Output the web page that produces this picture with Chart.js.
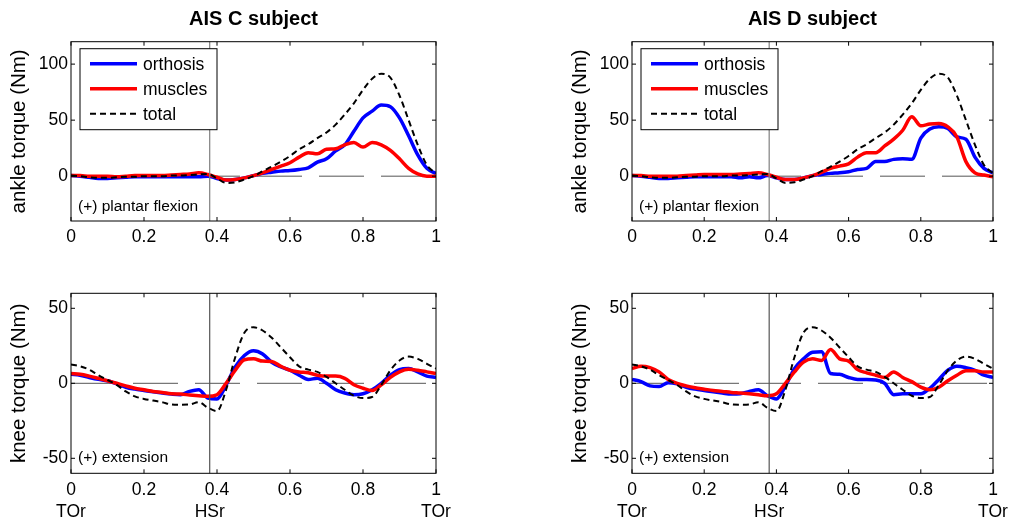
<!DOCTYPE html>
<html>
<head>
<meta charset="utf-8">
<script src="https://cdn.jsdelivr.net/npm/chart.js@4.4.1/dist/chart.umd.min.js"></script>
<style>
  body { margin: 0; background: #fff; width: 1009px; height: 522px; position: relative; overflow: hidden; }
  canvas { position: absolute; }
</style>
</head>
<body>
<canvas id="ankleC" width="452" height="260" style="left:0;top:0"></canvas>
<canvas id="kneeC" width="452" height="262" style="left:0;top:260px"></canvas>
<canvas id="ankleD" width="448" height="260" style="left:561.3px;top:0"></canvas>
<canvas id="kneeD" width="448" height="262" style="left:561.3px;top:260px"></canvas>
<script>
// gait cycle (fraction), shared by all panels
const gait = [0,0.025,0.05,0.075,0.1,0.125,0.15,0.175,0.2,0.225,0.25,0.275,0.3,0.325,0.35,0.375,0.4,0.425,0.45,0.475,0.5,0.525,0.55,0.575,0.6,0.625,0.65,0.675,0.7,0.725,0.75,0.775,0.8,0.825,0.85,0.875,0.9,0.925,0.95,0.975,1];

// ankle torque (Nm)
const ankleTotal = [0.5,0,-1,-1.5,-1.5,-1,-0.5,-0.5,0,0,0,0.5,0.5,1,1.5,2,-2,-6,-5.5,-3,0,4.5,8.5,13,18,24,28.5,34,39,46,55,65,77,87,91.5,88,72,50,28,10,2.5];
const ankleOrthC = [0.5,0,-1,-2,-2,-1.5,-1,-0.5,-0.5,-0.5,-0.5,-0.5,-0.5,-0.5,-0.5,0,-2,-3.5,-3,-1.5,0.5,2.5,3.5,4.5,5,6,7.5,12.5,15.5,22.5,28,40,52,58,63.5,62,52,36,19,7,2.5];
const ankleMuscC = [0.5,0.5,0,0,0,-0.5,0,0.5,0.5,0.5,0.5,1,1.5,2,3,1.5,-1,-3.5,-3,-1.5,0.5,3,6,9,12,17,21,20,24,24.5,28,30,26,30,28,23,15.5,7,2,0,0];
const ankleOrthD = [0.5,0,-1,-2,-2,-1.5,-1,-0.5,-0.5,-0.5,-0.5,-0.5,-1.5,-0.5,-1.5,0.5,-1.5,-3,-3,-1.5,0.5,1.5,2.5,3,4,6,7,13,13,15,15.5,15,34,42,44,42.5,35,33,17,7,3];
const ankleMuscD = [0.5,0.5,0,0,0,0,0.5,1,1.5,1.5,1.5,1.5,2,2.5,3,1.5,-1,-3,-3,-1.5,0.5,3.5,7,9,11,17,21,21,27,33,41,53,45,46.5,47,44,35,13,3,1,-0.5];

// knee torque (Nm)
const kneeTotal = [12.6,11.3,9.1,5.4,2.2,-1.1,-5.4,-8.7,-10.4,-11.5,-12.6,-14.1,-14.3,-14.1,-12.6,-16.3,-18.5,-4.3,17.4,33.7,37.4,35.2,30.4,23.9,17.4,11.3,9.1,7.6,4.3,0,-4.3,-8.3,-9.8,-9.1,-1.1,8.7,15.2,17.8,16.3,13,9.8];
const kneeOrthC = [6,5.4,3.9,2.6,1.7,-0.4,-2.6,-3.9,-4.8,-5.7,-6.5,-7.2,-7.6,-5.4,-4.3,-9.8,-10.4,-1.1,10.9,18.5,21.7,19.6,14,10.9,8.7,5.4,2.6,3.3,0,-4.3,-6.5,-7.6,-7,-4.3,0,5.4,9.1,9.8,7.6,4.8,3.9];
const kneeMuscC = [6.5,6,4.8,3.3,1.7,0,-1.7,-3.3,-4.3,-5.4,-6.1,-7,-7.2,-7.8,-8.3,-8.7,-7.6,0,8.7,15.7,16.3,14.8,14.6,11.3,8.7,7.6,7,5.4,4.8,4.8,3.3,-1,-3.3,-4.8,-1.1,3.9,7.6,9.3,8.7,7.6,6.5];
const kneeOrthD = [2.6,1.1,-1.7,-2.2,0.4,-0.4,-2.6,-3.9,-4.8,-5.7,-6.5,-7.2,-7,-5.4,-4.3,-8.3,-10.4,-1.7,9.8,16.3,20.7,21,6.5,6,3.9,2.6,2.6,2.2,0,-7.6,-7,-7,-7,-3.3,2.6,8.7,11.3,10.4,8.7,5.4,3.9];
const kneeMuscD = [9.8,11.3,10.4,7.6,2.6,0,-1.7,-3,-3.9,-4.8,-5.4,-6.1,-6.5,-7,-7.6,-8.3,-7,0,7.6,14.1,16.3,15.2,22.5,16.3,14.8,9.1,7,5.4,3.9,7.6,3.9,1.1,-2.6,-4.3,-2.6,1.7,5.4,8.3,8.3,7.6,7.6];

// axes
const xTicks = [0, 0.2, 0.4, 0.6, 0.8, 1];
const heelStrike = 0.38;
const ankleTicks = [0, 50, 100];
const kneeTicks = [-50, 0, 50];

const FONT = '"Liberation Sans", Arial, sans-serif';
Chart.defaults.font.family = FONT;
Chart.defaults.color = '#000';

function series(label, vals, color, dashed, order) {
    return {
        label: label,
        data: gait.map((g, i) => ({ x: g, y: vals[i] })),
        borderColor: color,
        backgroundColor: color,
        borderWidth: dashed ? 2 : 3.5,
        borderDash: dashed ? [6, 4] : [],
        pointRadius: 0,
        cubicInterpolationMode: 'monotone',
        order: order
    };
}

// matlab style box, ticks, reference lines, legend and notes
const matlabAxes = {
    id: 'matlabAxes',
    beforeDatasetsDraw(chart, args, opts) {
        const { ctx, scales: { x, y } } = chart;
        ctx.save();
        ctx.strokeStyle = '#555';
        ctx.lineWidth = 1;
        ctx.setLineDash([45, 17]);
        ctx.beginPath();
        ctx.moveTo(x.getPixelForValue(0), y.getPixelForValue(0));
        ctx.lineTo(x.getPixelForValue(1), y.getPixelForValue(0));
        ctx.stroke();
        ctx.restore();
    },
    afterDatasetsDraw(chart, args, opts) {
        const { ctx, chartArea: a, scales: { x, y } } = chart;
        ctx.save();
        // heel strike line
        ctx.strokeStyle = opts.eventColor;
        ctx.lineWidth = 1.2;
        const hx = x.getPixelForValue(heelStrike);
        ctx.beginPath();
        ctx.moveTo(hx, a.top);
        ctx.lineTo(hx, a.bottom);
        ctx.stroke();

        // box
        ctx.strokeStyle = '#000';
        ctx.lineWidth = 1;
        ctx.strokeRect(a.left, a.top, a.right - a.left, a.bottom - a.top);

        // inward ticks
        ctx.beginPath();
        xTicks.forEach(v => {
            const px = x.getPixelForValue(v);
            ctx.moveTo(px, a.bottom); ctx.lineTo(px, a.bottom - 4);
            ctx.moveTo(px, a.top); ctx.lineTo(px, a.top + 4);
        });
        opts.yTicks.forEach(v => {
            const py = y.getPixelForValue(v);
            ctx.moveTo(a.left, py); ctx.lineTo(a.left + 4, py);
            ctx.moveTo(a.right, py); ctx.lineTo(a.right - 4, py);
        });
        ctx.stroke();

        // note in lower left corner
        ctx.fillStyle = '#000';
        ctx.font = '15.5px ' + FONT;
        ctx.textAlign = 'left';
        ctx.textBaseline = 'middle';
        ctx.fillText(opts.note, a.left + 7, a.bottom - opts.noteOffset);

        // panel title
        if (opts.title) {
            ctx.font = 'bold 20px ' + FONT;
            ctx.textAlign = 'center';
            ctx.textBaseline = 'alphabetic';
            ctx.fillText(opts.title, (a.left + a.right) / 2, a.top - 16.7);
        }

        // legend box
        if (opts.legend) {
            const lx = a.left + 9, ly = a.top + 7;
            ctx.fillStyle = '#fff';
            ctx.fillRect(lx, ly, 137, 81);
            ctx.strokeStyle = '#000';
            ctx.lineWidth = 1;
            ctx.strokeRect(lx, ly, 137, 81);
            ctx.font = '17.5px ' + FONT;
            ctx.textAlign = 'left';
            ctx.textBaseline = 'middle';
            chart.data.datasets.forEach((ds, i) => {
                const ry = a.top + 22 + i * 25;
                ctx.strokeStyle = ds.borderColor;
                ctx.lineWidth = ds.borderWidth;
                ctx.setLineDash(ds.borderDash);
                ctx.beginPath();
                ctx.moveTo(lx + 10, ry);
                ctx.lineTo(lx + 57, ry);
                ctx.stroke();
                ctx.setLineDash([]);
                ctx.fillStyle = '#000';
                ctx.fillText(ds.label, lx + 63, ry + 1);
            });
        }
        ctx.restore();
    }
};

function makePanel(id, orth, musc, total, cfg) {
    const ctx = document.getElementById(id).getContext('2d');
    const canvasW = ctx.canvas.width;
    return new Chart(ctx, {
        type: 'line',
        data: {
            datasets: [
                series('orthosis', orth, '#0000ff', false, 3),
                series('muscles', musc, '#ff0000', false, 2),
                series('total', total, '#000000', true, 1)
            ]
        },
        options: {
            responsive: false,
            animation: false,
            devicePixelRatio: 1,
            layout: { padding: { top: cfg.top, right: canvasW - cfg.plotWidth - 71, bottom: 0, left: 0 } },
            plugins: {
                legend: { display: false },
                tooltip: { enabled: false },
                matlabAxes: {
                    title: cfg.title,
                    legend: cfg.legend,
                    note: cfg.note,
                    noteOffset: cfg.noteOffset,
                    yTicks: cfg.yTicks,
                    eventColor: cfg.eventColor
                }
            },
            scales: {
                x: {
                    type: 'linear',
                    min: 0,
                    max: 1,
                    grid: { display: false, drawTicks: false },
                    border: { display: false },
                    afterBuildTicks: s => {
                        const vals = cfg.events ? xTicks.concat([heelStrike]) : xTicks;
                        s.ticks = vals.map(v => ({ value: v }));
                    },
                    afterFit: s => { s.height = cfg.xHeight; },
                    ticks: {
                        autoSkip: false,
                        maxRotation: 0,
                        padding: 5,
                        font: { size: 17.5, lineHeight: 1.3 },
                        callback: v => {
                            const num = (v === 0 || v === 1) ? String(v) : v.toFixed(1);
                            if (!cfg.events) return num;
                            if (v === 0 || v === 1) return [num, 'TOr'];
                            if (v === heelStrike) return ['', 'HSr'];
                            return num;
                        }
                    }
                },
                y: {
                    type: 'linear',
                    min: cfg.yMin,
                    max: cfg.yMax,
                    grid: { display: false, drawTicks: false },
                    border: { display: false },
                    afterBuildTicks: s => { s.ticks = cfg.yTicks.map(v => ({ value: v })); },
                    afterFit: s => { s.width = 71; },
                    ticks: { padding: 3, font: { size: 17.5 } },
                    title: {
                        display: true,
                        text: cfg.yTitle,
                        font: { size: 20.5 },
                        padding: { top: 7, bottom: 0 }
                    }
                }
            }
        },
        plugins: [matlabAxes]
    });
}

const topCfg = {
    top: 41.7, xHeight: 39, yMin: -40, yMax: 120, yTicks: ankleTicks,
    yTitle: 'ankle torque (Nm)', legend: true, events: false,
    note: '(+) plantar flexion', noteOffset: 14.5, eventColor: '#808080'
};
const bottomCfg = {
    top: 33.3, xHeight: 48.7, yMin: -60, yMax: 60, yTicks: kneeTicks,
    yTitle: 'knee torque (Nm)', legend: false, events: true,
    note: '(+) extension', noteOffset: 15.5, eventColor: '#555'
};

makePanel('ankleC', ankleOrthC, ankleMuscC, ankleTotal, Object.assign({}, topCfg, { title: 'AIS C subject', plotWidth: 365 }));
makePanel('kneeC', kneeOrthC, kneeMuscC, kneeTotal, Object.assign({}, bottomCfg, { plotWidth: 365 }));
makePanel('ankleD', ankleOrthD, ankleMuscD, ankleTotal, Object.assign({}, topCfg, { title: 'AIS D subject', plotWidth: 361 }));
makePanel('kneeD', kneeOrthD, kneeMuscD, kneeTotal, Object.assign({}, bottomCfg, { plotWidth: 361 }));
</script>
</body>
</html>
